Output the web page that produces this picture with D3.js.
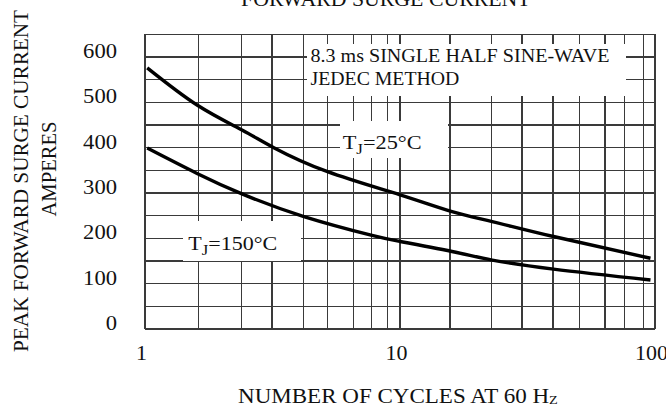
<!DOCTYPE html>
<html><head><meta charset="utf-8">
<script src="https://cdn.jsdelivr.net/npm/d3@7"></script>
<style>
body{margin:0;background:#fff}
svg{display:block}
text{font-family:"Liberation Serif","Times New Roman",serif;fill:#111}
</style></head>
<body><svg id="c" width="666" height="407"></svg>
<script>
// ---- data ----
const chartTitle = "FORWARD SURGE CURRENT";
const yTitleLines = ["PEAK FORWARD SURGE CURRENT", "AMPERES"];
const xTitleMain = "NUMBER OF CYCLES AT 60 H";
const xTitleSub = "Z";
const noteLines = ["8.3 ms SINGLE HALF SINE-WAVE", "JEDEC METHOD"];

const yTickLabels = [0, 100, 200, 300, 400, 500, 600];
const yGridValues = [0, 50, 100, 150, 200, 250, 300, 350, 400, 450, 500, 550, 600, 650];
const xTickLabels = [1, 10, 100];
const xGridCycles = [1, 1.62, 2.39, 3.15, 4.19, 5.21, 6.58, 7.71, 8.96, 10, 15.7, 22.9, 30.1, 39.8, 50.4, 63.7, 76.2, 90, 100];

const cycles25 = [1.02, 1.6, 2.4, 3.2, 5.2, 10, 16, 23, 40, 96];
const amps25   = [576, 494, 439, 400, 347, 296, 259, 237, 204, 156];
const cycles150 = [1.02, 1.6, 2.4, 4.2, 7.7, 10, 16, 23, 40, 96];
const amps150   = [399, 343, 298, 248, 207, 193, 171, 152, 132, 108];

// ---- layout ----
const L = 145, R = 655, T = 34.3, B = 329;
const svg = d3.select("#c");
svg.append("rect").attr("width", 666).attr("height", 407).attr("fill", "#fff");

const x = d3.scaleLog().domain([1, 100]).range([L, R]);
const y = d3.scaleLinear().domain([0, 650]).range([B, T]);

const gridColor = "#3a3a3a";
const grid = svg.append("g").attr("stroke", gridColor).attr("stroke-width", 1.2).attr("shape-rendering", "crispEdges");
grid.selectAll("line.v").data(xGridCycles).join("line")
  .attr("x1", d => x(d)).attr("x2", d => x(d)).attr("y1", T).attr("y2", B);
grid.selectAll("line.h").data(yGridValues).join("line")
  .attr("x1", L).attr("x2", R).attr("y1", d => y(d)).attr("y2", d => y(d));

// white boxes behind annotation texts
const boxes = [[307, 44, 626, 96], [340, 121, 448, 158], [183, 221, 301, 261]];
svg.selectAll("rect.box").data(boxes).join("rect")
  .attr("x", d => d[0]).attr("y", d => d[1])
  .attr("width", d => d[2] - d[0]).attr("height", d => d[3] - d[1])
  .attr("fill", "#fff");

// curves
const line = d3.line().x(d => x(d[0])).y(d => y(d[1])).curve(d3.curveNatural);
[[cycles25, amps25], [cycles150, amps150]].forEach(([cx, cy]) => {
  svg.append("path").datum(cx.map((c, i) => [c, cy[i]]))
    .attr("d", line).attr("fill", "none").attr("stroke", "#000")
    .attr("stroke-width", 3.4).attr("stroke-linecap", "butt");
});

// axes (labels only)
const yAxis = svg.append("g").attr("transform", `translate(${L},0)`)
  .call(d3.axisLeft(y).tickValues(yTickLabels).tickSize(0).tickPadding(28).tickFormat(d3.format("d")));
yAxis.select(".domain").remove();
yAxis.selectAll("text").attr("font-size", 20).attr("fill", "#111")
  .attr("font-family", '"Liberation Serif","Times New Roman",serif')
  .attr("dy", "0.32em").attr("transform", "translate(0,-6)")
  .attr("textLength", d => String(d).length * 11.3).attr("lengthAdjust", "spacingAndGlyphs");

const xAxis = svg.append("g").attr("transform", `translate(0,${B})`)
  .call(d3.axisBottom(x).tickValues(xTickLabels).tickSize(0).tickFormat(d3.format("d")));
xAxis.select(".domain").remove();
xAxis.selectAll("text").attr("font-size", 20).attr("fill", "#111")
  .attr("font-family", '"Liberation Serif","Times New Roman",serif')
  .attr("y", 31).attr("dy", 0).attr("transform", "translate(-4,0)")
  .attr("textLength", d => String(d).length * 11).attr("lengthAdjust", "spacingAndGlyphs");

// helper: stretch a text horizontally to a measured extent
function fitX(sel, left, width) {
  const n = sel.node(); const b = n.getBBox(); const s = width / b.width;
  sel.attr("transform", `translate(${left - s * b.x},0) scale(${s},1)`);
}

// title (cut off at top, as in the reference)
fitX(svg.append("text").attr("x", 0).attr("y", 6).attr("font-size", 21).text(chartTitle), 241, 290);

// y title
svg.append("text").attr("transform", "translate(28,181) rotate(-90)")
  .attr("text-anchor", "middle").attr("font-size", 21)
  .attr("textLength", 342).attr("lengthAdjust", "spacingAndGlyphs").text(yTitleLines[0]);
svg.append("text").attr("transform", "translate(56,169) rotate(-90)")
  .attr("text-anchor", "middle").attr("font-size", 21)
  .attr("textLength", 95).attr("lengthAdjust", "spacingAndGlyphs").text(yTitleLines[1]);

// x title
const xt = svg.append("text").attr("x", 0).attr("y", 403).attr("font-size", 21);
xt.append("tspan").text(xTitleMain);
xt.append("tspan").attr("font-size", 13).attr("dy", 1).text(xTitleSub);
fitX(xt, 238, 320);

// note
fitX(svg.append("text").attr("x", 0).attr("y", 62.5).attr("font-size", 18.5).text(noteLines[0]), 310.5, 299);
fitX(svg.append("text").attr("x", 0).attr("y", 85.5).attr("font-size", 18.5).text(noteLines[1]), 310.5, 149);

// curve labels
function tjLabel(yBase, rest, left, width) {
  const t = svg.append("text").attr("x", 0).attr("y", yBase).attr("font-size", 19);
  t.append("tspan").text("T");
  t.append("tspan").attr("font-size", 14.5).attr("dy", 5).text("J");
  t.append("tspan").attr("dy", -5).text(rest);
  fitX(t, left, width);
}
tjLabel(148.7, "=25°C", 342.7, 79);
tjLabel(250.3, "=150°C", 188.3, 89);
</script></body></html>
